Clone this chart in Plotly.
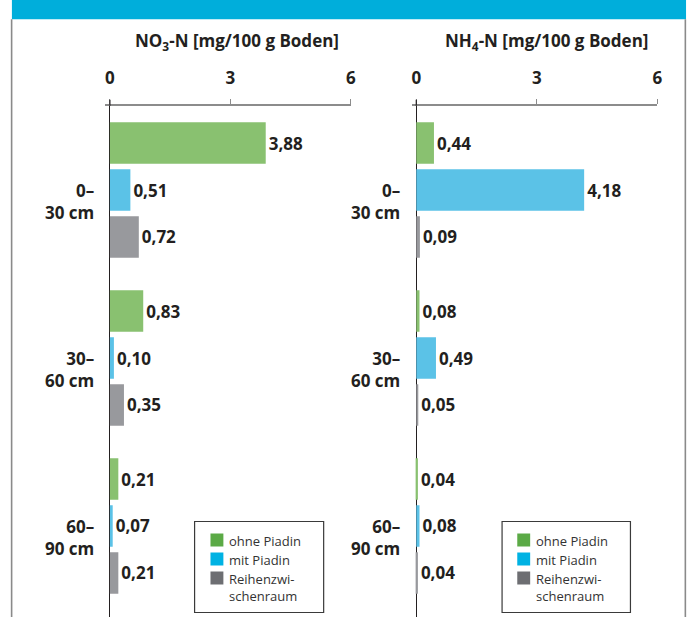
import plotly.graph_objects as go

# ---------------- data ----------------
depth_labels = ["0–<br>30 cm", "30–<br>60 cm", "60–<br>90 cm"]
depth_keys = ["0-30", "30-60", "60-90"]
series_names = ["ohne Piadin", "mit Piadin", "Reihenzwi-<br>schenraum"]

no3_ohne = [3.88, 0.83, 0.21]
no3_mit = [0.51, 0.10, 0.07]
no3_reihe = [0.72, 0.35, 0.21]

nh4_ohne = [0.44, 0.08, 0.04]
nh4_mit = [4.18, 0.49, 0.08]
nh4_reihe = [0.09, 0.05, 0.04]

x_ticks = [0, 3, 6]
panel_titles = ["NO<sub>3</sub>-N [mg/100 g Boden]", "NH<sub>4</sub>-N [mg/100 g Boden]"]

bar_colors = ["#89C170", "#5BC2E7", "#98999D"]
legend_colors = ["#5BAA46", "#00B2E3", "#6D6E72"]

# ---------------- layout helpers ----------------
W, H = 697, 617
FONT = "Open Sans"
TXT = "#231F20"


def px(x):
    return x / W


def py(y):
    return 1 - y / H


fig = go.Figure()

panels = [
    ("x", "y", [no3_ohne, no3_mit, no3_reihe]),
    ("x2", "y2", [nh4_ohne, nh4_mit, nh4_reihe]),
]
for xa, ya, vals in panels:
    for i, v in enumerate(vals):
        fig.add_trace(go.Bar(
            x=v, y=depth_keys, orientation="h", xaxis=xa, yaxis=ya,
            name=series_names[i], marker=dict(color=bar_colors[i], line=dict(width=0)),
            text=v, texttemplate="%{x:.2f}", textposition="outside",
            textfont=dict(family=FONT, size=17, color=TXT, weight="bold"),
            cliponaxis=False, showlegend=False, hoverinfo="skip",
        ))

x_range = [-0.116, 6]
xcommon = dict(
    range=x_range, side="top", tickvals=x_ticks, ticktext=[str(t) for t in x_ticks],
    ticks="outside", ticklen=5, tickcolor="#8C8C8C", tickwidth=1.3,
    showline=True, linecolor="#8C8C8C", linewidth=1.5, showgrid=False,
    zeroline=True, zerolinecolor="#231F20", zerolinewidth=1.2,
    tickfont=dict(family=FONT, size=17, color=TXT, weight="bold"),
    ticklabelstandoff=8, fixedrange=True,
)
ytop_px, ybot_px = 105.7, 617
y_range = [2.5417, -0.5018]
ycommon = dict(
    type="category", range=y_range, autorange=False, showticklabels=False,
    showline=False, showgrid=False, zeroline=False, ticks="",
    domain=[py(ybot_px), py(ytop_px)], fixedrange=True,
)

fig.update_layout(
    width=W, height=H, margin=dict(l=0, r=0, t=0, b=0),
    paper_bgcolor="white", plot_bgcolor="white",
    barmode="group", bargap=0.161, bargroupgap=0.113,
    separators=",.",
    xaxis=dict(domain=[px(106.0), px(353.4)], anchor="y", **xcommon),
    xaxis2=dict(domain=[px(414.6), px(662.0)], anchor="y2", **xcommon),
    yaxis=dict(anchor="x", **ycommon),
    yaxis2=dict(anchor="x2", **ycommon),
    font=dict(family=FONT, color=TXT),
)

shapes = []
annotations = []

# frame: blue header band and side lines
shapes.append(dict(type="rect", xref="paper", yref="paper", x0=px(12), x1=px(691), y0=py(19.3), y1=1,
                   fillcolor="#00AEDB", line=dict(width=0), layer="below"))
for xl in (11.7, 690.3):
    shapes.append(dict(type="line", xref="paper", yref="paper", x0=px(xl), x1=px(xl), y0=0, y1=py(19.3),
                       line=dict(color="#8A8A8A", width=1.6)))

panel_info = [
    # xref, yref, title centre, category label right edge, legend box (l, r), swatch l, text l
    ("x", "y", 239, 96.7, (196, 326), 212, 228.7),
    ("x2", "y2", 550, 405, (505.7, 635), 521, 538.3),
]
for xr, yr, tcx, cat_r, (bl, br), swl, txl in panel_info:
    # short black extension of the zero line above the axis line
    shapes.append(dict(type="line", xref=xr, yref=f"{yr} domain", x0=0, x1=0, y0=1, y1=1 + 6 / (ybot_px - ytop_px),
                       line=dict(color="#231F20", width=1.2)))
    # panel title
    annotations.append(dict(xref="paper", yref="paper", x=px(tcx), y=py(41.7), text=panel_titles[0 if xr == "x" else 1],
                            showarrow=False, xanchor="center", yanchor="middle",
                            font=dict(family=FONT, size=17, color=TXT, weight="bold")))
    # category labels
    for i, lab in enumerate(depth_labels):
        annotations.append(dict(xref="paper", yref=yr, x=px(cat_r), y=i, yshift=-11, text=lab, showarrow=False,
                                xanchor="right", yanchor="middle", align="right",
                                font=dict(family=FONT, size=17, color=TXT, weight="bold")))
    # legend box
    shapes.append(dict(type="rect", xref="paper", yref="paper", x0=px(bl), x1=px(br), y0=py(612.5), y1=py(521.5),
                       fillcolor="white", line=dict(color="#3A3A3A", width=1.2)))
    for k, (name, col) in enumerate(zip(series_names, legend_colors)):
        cy = 540 + 19 * k
        shapes.append(dict(type="rect", xref="paper", yref="paper", x0=px(swl), x1=px(swl + 13),
                           y0=py(cy + 6.5), y1=py(cy - 6.5), fillcolor=col, line=dict(width=0)))
        annotations.append(dict(xref="paper", yref="paper", x=px(txl), y=py(cy - 10), text=name, showarrow=False,
                                xanchor="left", yanchor="top", align="left",
                                font=dict(family=FONT, size=13, color="#333333")))

fig.update_layout(shapes=shapes, annotations=annotations)
fig.write_html("out.html", config={"displayModeBar": False},
               post_script="document.body.style.margin='0';document.body.style.padding='0';")
